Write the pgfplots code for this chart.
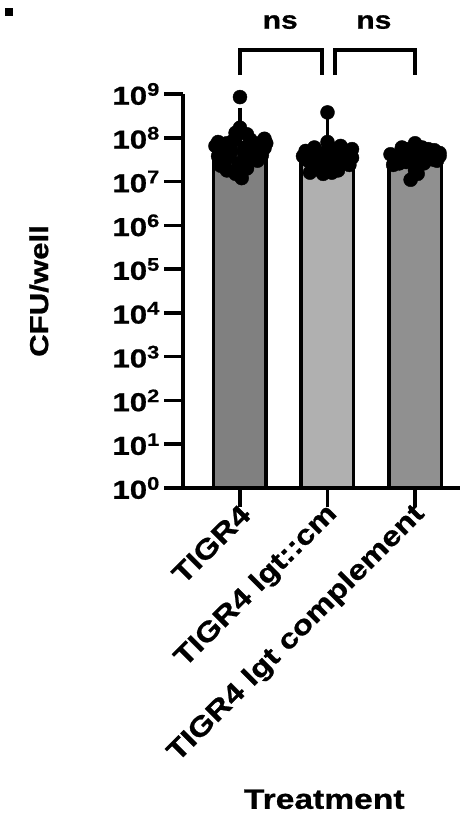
\documentclass[border=0pt]{standalone}
\usepackage{fontspec}
\setmainfont{Liberation Sans}[FakeStretch=1.2, BoldFeatures={FakeBold=0.8}]
\usepackage{pgfplots}
\pgfplotsset{compat=1.18}
\definecolor{barA}{HTML}{808080}
\definecolor{barB}{HTML}{B0B0B0}
\definecolor{barC}{HTML}{909090}
\newcommand{\lbl}{\bfseries\fontsize{26}{30}\selectfont}
\newcommand{\xlbl}{\bfseries\fontsize{27.5}{30}\selectfont}
\newcommand{\ttl}{\bfseries\fontsize{28}{32}\selectfont}
\newcommand{\nsf}{\bfseries\fontsize{25}{29}\selectfont}
\begin{document}
\begin{tikzpicture}[x=1pt,y=1pt]
\useasboundingbox (0,0) rectangle (465,-840);
\fill (5,-8) rectangle (13,-16);
\begin{axis}[
  at={(183pt,-488pt)}, anchor=south west,
  scale only axis, width=277pt, height=394pt,
  ymode=log, ymin=1, ymax=1e9,
  xmin=-0.651, xmax=2.514,
  clip=false,
  axis x line*=bottom, axis y line*=left,
  axis line style={line width=3.5pt,-},
  tick align=outside, major tick length=19pt,
  tick style={line width=3.5pt,black},
  yminorticks=false, xminorticks=false,
  ytick={1,10,100,1e3,1e4,1e5,1e6,1e7,1e8,1e9},
  yticklabels={10\textsuperscript{0},10\textsuperscript{1},10\textsuperscript{2},10\textsuperscript{3},10\textsuperscript{4},10\textsuperscript{5},10\textsuperscript{6},10\textsuperscript{7},10\textsuperscript{8},10\textsuperscript{9}},
  yticklabel style={font=\lbl, inner sep=1pt, xshift=-3pt},
  xtick={0,1,2},
  xticklabels={{TIGR4},{TIGR4 lgt::cm},{TIGR4 lgt complement}},
  xticklabel style={font=\xlbl, rotate=45, anchor=east, inner sep=2pt, xshift=4pt, yshift=-6pt},
  ylabel={CFU/well},
  ylabel style={font=\lbl, at={(axis description cs:-0.52,0.5)}, anchor=center, rotate=0},
  xlabel={Treatment},
  xlabel style={font=\ttl, at={(axis description cs:0.51,-0.79)}, anchor=center},
  ybar, bar width=52.5pt,
]
\addplot[ybar, bar shift=0pt, fill=barA, draw=black, line width=3.5pt,
  error bars/.cd, y dir=plus, y explicit, error mark=-, error mark options={line width=3.5pt, mark size=16pt, black}, error bar style={line width=3.5pt, black}]
  coordinates {(0,7.6e7) +- (0,1.35e8)};
\addplot[ybar, bar shift=0pt, fill=barB, draw=black, line width=3.5pt,
  error bars/.cd, y dir=plus, y explicit, error mark=-, error mark options={line width=3.5pt, mark size=16pt, black}, error bar style={line width=3.5pt, black}]
  coordinates {(1,4.4e7) +- (0,7.1e7)};
\addplot[ybar, bar shift=0pt, fill=barC, draw=black, line width=3.5pt,
  error bars/.cd, y dir=plus, y explicit, error mark=-, error mark options={line width=3.5pt, mark size=16pt, black}, error bar style={line width=3.5pt, black}]
  coordinates {(2,3.6e7) +- (0,0.9e7)};
\addplot[only marks, mark=*, mark size=7pt, black, mark options={fill=black, draw=black}] coordinates {
(0.00,8.5e8) (0.00,1.7e8) (-0.05,1.3e8) (0.08,1.2e8) (-0.25,8.0e7) (-0.15,7.5e7)
(0.12,9.0e7) (0.25,8.0e7) (0.30,7.5e7) (0.05,6.0e7) (-0.20,5.5e7) (0.18,4.5e7)
(0.25,4.0e7) (-0.18,2.8e7) (-0.22,2.3e7) (-0.05,1.5e7) (0.02,1.2e7) (0.10,3.5e7) (-0.10,5.0e7)
(-0.28,6.5e7) (-0.08,8.5e7) (0.15,6.5e7) (0.28,5.8e7) (-0.12,3.8e7) (0.05,4.2e7)
(-0.25,3.8e7) (0.20,3.0e7) (-0.02,2.6e7) (0.08,2.0e7) (-0.15,1.8e7) (0.28,9.5e7)
(1.00,3.8e8) (1.00,8.0e7) (0.85,6.0e7) (0.75,5.0e7) (1.15,6.5e7) (1.28,5.5e7)
(0.95,4.5e7) (1.10,4.0e7) (0.78,3.0e7) (1.20,3.2e7) (1.05,2.5e7) (0.90,2.2e7)
(0.80,1.6e7) (0.95,1.5e7) (1.12,1.8e7) (1.25,2.4e7)
(0.72,3.8e7) (0.88,3.8e7) (1.05,5.5e7) (1.22,4.2e7) (1.00,3.2e7) (0.85,2.8e7)
(1.15,2.8e7) (1.28,3.5e7) (1.05,1.6e7) (0.92,1.8e7)
(2.00,7.5e7) (1.85,6.0e7) (2.15,5.5e7) (1.72,4.2e7) (2.28,4.5e7) (1.95,4.5e7)
(2.05,3.8e7) (1.80,3.0e7) (2.20,3.2e7) (1.90,2.8e7) (2.10,2.6e7) (1.75,2.4e7)
(2.00,1.8e7) (1.95,1.1e7) (2.25,3.0e7)
(1.92,5.5e7) (2.08,6.0e7) (1.78,3.6e7) (2.12,4.2e7) (2.22,5.2e7) (1.88,3.6e7)
(2.00,3.3e7) (1.82,2.6e7) (2.03,1.5e7) (2.28,3.8e7)
};
\draw[line width=3.5pt] (axis cs:0,2.7e9) -- (axis cs:0,1e10) -- (axis cs:0.94,1e10) -- (axis cs:0.94,2.7e9);
\draw[line width=3.5pt] (axis cs:1.086,2.7e9) -- (axis cs:1.086,1e10) -- (axis cs:2,1e10) -- (axis cs:2,2.7e9);
\node[font=\nsf] at (axis cs:0.46,4.4e10) {ns};
\node[font=\nsf] at (axis cs:1.53,4.4e10) {ns};
\end{axis}
\end{tikzpicture}
\end{document}
